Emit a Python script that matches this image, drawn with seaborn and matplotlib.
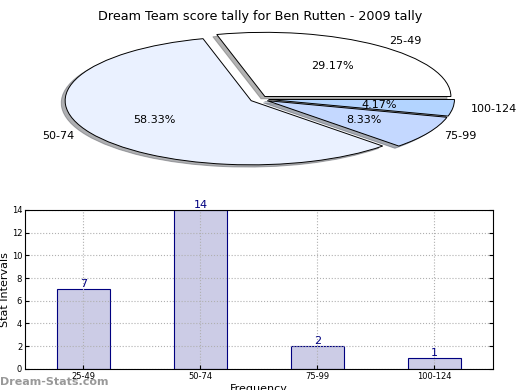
import matplotlib
matplotlib.use("Agg")
import matplotlib.pyplot as plt
import seaborn as sns
import pandas as pd

categories = ["25-49", "50-74", "75-99", "100-124"]
counts = [7, 14, 2, 1]
pie_colors = ["#FFFFFF", "#EAF1FF", "#C4D8FF", "#B3D4FF"]

plt.rcParams['font.family'] = ['DejaVu Sans']
fig = plt.figure(figsize=(5.2, 3.9), dpi=100)

# Pie
axp = fig.add_axes([0.105, 0.565, 0.787, 0.362])
axp.pie(counts, labels=categories, colors=pie_colors, explode=[0.05] * 4,
        autopct="%.2f%%", shadow=dict(ox=-0.015, oy=-0.025, shade=0.6),
        startangle=0, counterclock=True,
        wedgeprops=dict(edgecolor="black", linewidth=0.7),
        textprops=dict(fontsize=8))
axp.set_aspect("auto")
axp.set_xlim(-1.1, 1.1)
axp.set_ylim(-1.1, 1.1)
fig.text(0.5, 0.975, "Dream Team score tally for Ben Rutten - 2009 tally",
         ha="center", va="top", fontsize=9.2)

# Bars
axb = fig.add_axes([0.048, 0.054, 0.9, 0.408])
df = pd.DataFrame({"cat": categories, "count": counts})
sns.barplot(data=df, x="cat", y="count", ax=axb, color="#CCCCE6",
            edgecolor="#000080", linewidth=0.8, width=0.45, saturation=1)
axb.set_xlim(-0.5, 3.5)
axb.set_ylim(0, 14)
axb.set_yticks(range(0, 15, 2))
axb.grid(True, linestyle=":", color="#b0b0b0", linewidth=0.8)
axb.set_axisbelow(False)
axb.tick_params(direction="in", labelsize=6, length=3, right=True, top=False, pad=2)
axb.set_ylabel("Stat Intervals", fontsize=8)
axb.yaxis.set_label_coords(-0.031, 0.5)
axb.set_xlabel("Frequency", fontsize=8)
axb.xaxis.set_label_coords(0.5, -0.095)
for i, v in enumerate(counts):
    axb.text(i, v, str(v), ha="center", va="bottom", color="#000080", fontsize=8,
             zorder=6)
for s in axb.spines.values():
    s.set_linewidth(0.8)
    s.set_zorder(5)

fig.text(0.0, 0.008, "Dream-Stats.com", fontsize=8, color="#999999",
         fontweight="bold", ha="left", va="bottom")

fig.savefig("out.png", dpi=100)
